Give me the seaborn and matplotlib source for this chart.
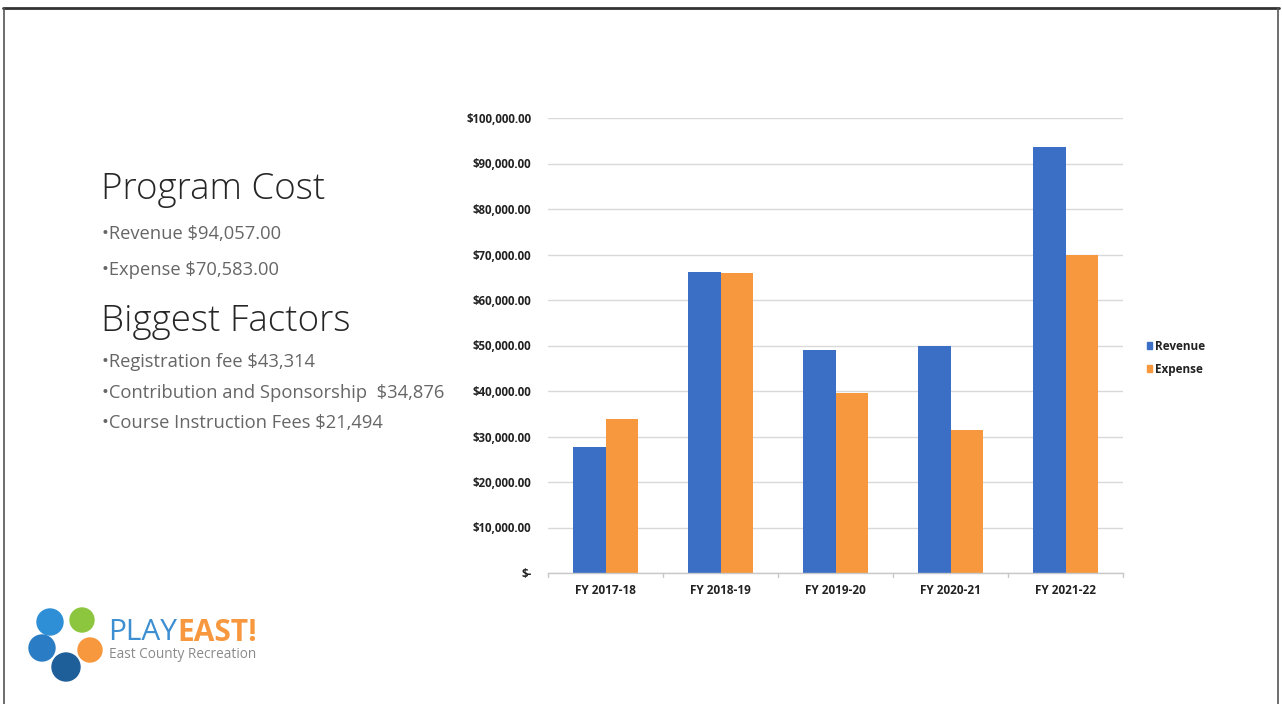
import matplotlib
matplotlib.use("Agg")
import matplotlib.pyplot as plt
import matplotlib.patches as mpatches
from matplotlib.lines import Line2D
from matplotlib.ticker import FuncFormatter, MultipleLocator
import seaborn as sns
import pandas as pd

# ---- data ----
years = ["FY 2017-18", "FY 2018-19", "FY 2019-20", "FY 2020-21", "FY 2021-22"]
revenue = [27700, 66100, 49100, 50000, 93600]
expense = [33800, 65900, 39600, 31500, 70000]
series_names = ["Revenue", "Expense"]
colors = ["#3b6fc6", "#f7983f"]

title1 = "Program Cost"
bullets1 = ["•Revenue $94,057.00", "•Expense $70,583.00"]
title2 = "Biggest Factors"
bullets2 = ["•Registration fee $43,314",
            "•Contribution and Sponsorship  $34,876",
            "•Course Instruction Fees $21,494"]

df = pd.DataFrame({
    "year": years * 2,
    "value": revenue + expense,
    "series": [series_names[0]] * len(years) + [series_names[1]] * len(years),
})

sns.set_theme(style="white")
plt.rcParams["font.family"] = ["Open Sans", "DejaVu Sans"]

W, H = 1282, 704
fig = plt.figure(figsize=(W / 100, H / 100), dpi=100)
fig.patch.set_facecolor("white")

def fx(x):
    return x / W

def fy(y):
    return 1 - y / H

ax = fig.add_axes([fx(548), fy(573), fx(1123) - fx(548), fy(118) - fy(573)])
sns.barplot(data=df, x="year", y="value", hue="series", palette=colors,
            width=0.56, ax=ax, saturation=1, legend=False, edgecolor="none")
ax.set_ylim(0, 100000)
ax.set_xlim(-0.5, len(years) - 0.5)
ax.yaxis.set_major_locator(MultipleLocator(10000))
ax.yaxis.set_major_formatter(FuncFormatter(lambda v, p: "$-" if v == 0 else f"${v:,.2f}"))
ax.set_xlabel("")
ax.set_ylabel("")
ax.grid(axis="y", color="#d9d9d9", linewidth=1)
ax.set_axisbelow(True)
for s in ["top", "right", "left"]:
    ax.spines[s].set_visible(False)
ax.spines["bottom"].set_color("#c8c8c8")
ax.spines["bottom"].set_linewidth(1)
ax.tick_params(axis="y", length=0, pad=12, labelsize=8.3, colors="#222222")
ax.tick_params(axis="x", length=0, pad=8, labelsize=8.5, colors="#222222")
for lab in ax.get_yticklabels() + ax.get_xticklabels():
    lab.set_fontweight("bold")
# small boundary ticks on category axis
for b in range(len(years) + 1):
    ax.plot([b - 0.5, b - 0.5], [0, -900], color="#c8c8c8", lw=1, clip_on=False)

handles = [mpatches.Patch(color=c, label=n) for c, n in zip(colors, series_names)]
leg = fig.legend(handles=handles, loc="upper left",
                 bbox_to_anchor=(fx(1136), fy(329)), frameon=False,
                 handlelength=0.45, handleheight=0.45, handletextpad=0.3,
                 labelspacing=0.85, prop={"size": 8.5, "weight": "bold"})
for t in leg.get_texts():
    t.set_color("#222222")

# ---- left text ----
fig.text(fx(101), fy(190), title1, fontsize=26.5, color="#262626",
         va="center", ha="left", fontweight="light")
for i, b in enumerate(bullets1):
    fig.text(fx(102), fy(234 + 36 * i), b, fontsize=13.2, color="#666666",
             va="center", ha="left")
fig.text(fx(101), fy(321), title2, fontsize=26.5, color="#262626",
         va="center", ha="left", fontweight="light")
for i, b in enumerate(bullets2):
    fig.text(fx(102), fy(362 + 30.5 * i), b, fontsize=13.2, color="#666666",
             va="center", ha="left")

# ---- logo ----
blobs = [(50, 622, 13, "#2f8fd6"), (82, 620, 12, "#8cc63e"),
         (42, 648, 13, "#2a7cc4"), (90, 650, 12, "#f7983f"),
         (66, 667, 14, "#1f5f99")]
for (x, y, r, c) in blobs:
    fig.patches.append(mpatches.Ellipse((fx(x), fy(y)), r * 2 / W, r * 2 / H,
                                        transform=fig.transFigure, color=c, zorder=5))
t1 = fig.text(fx(108), fy(633), "PLAY", fontsize=21.5, color="#3d8fd1",
              va="center", ha="left")
fig.canvas.draw()
bb = t1.get_window_extent()
fig.text(bb.x1 / W, fy(633), "EAST!", fontsize=21.5, color="#f7983f",
         va="center", ha="left", fontweight="bold")
fig.text(fx(109), fy(654), "East County Recreation", fontsize=9.8, color="#8a8a8a",
         va="center", ha="left")

# ---- slide border ----
fig.add_artist(Line2D([fx(3), fx(1279)], [fy(8), fy(8)], color="#333333", lw=2,
                      transform=fig.transFigure))
fig.add_artist(Line2D([fx(4), fx(4)], [fy(8), fy(704)], color="#555555", lw=1.2,
                      transform=fig.transFigure))
fig.add_artist(Line2D([fx(1278), fx(1278)], [fy(8), fy(704)], color="#555555", lw=1.2,
                      transform=fig.transFigure))

fig.savefig("out.png", dpi=100, facecolor="white")
